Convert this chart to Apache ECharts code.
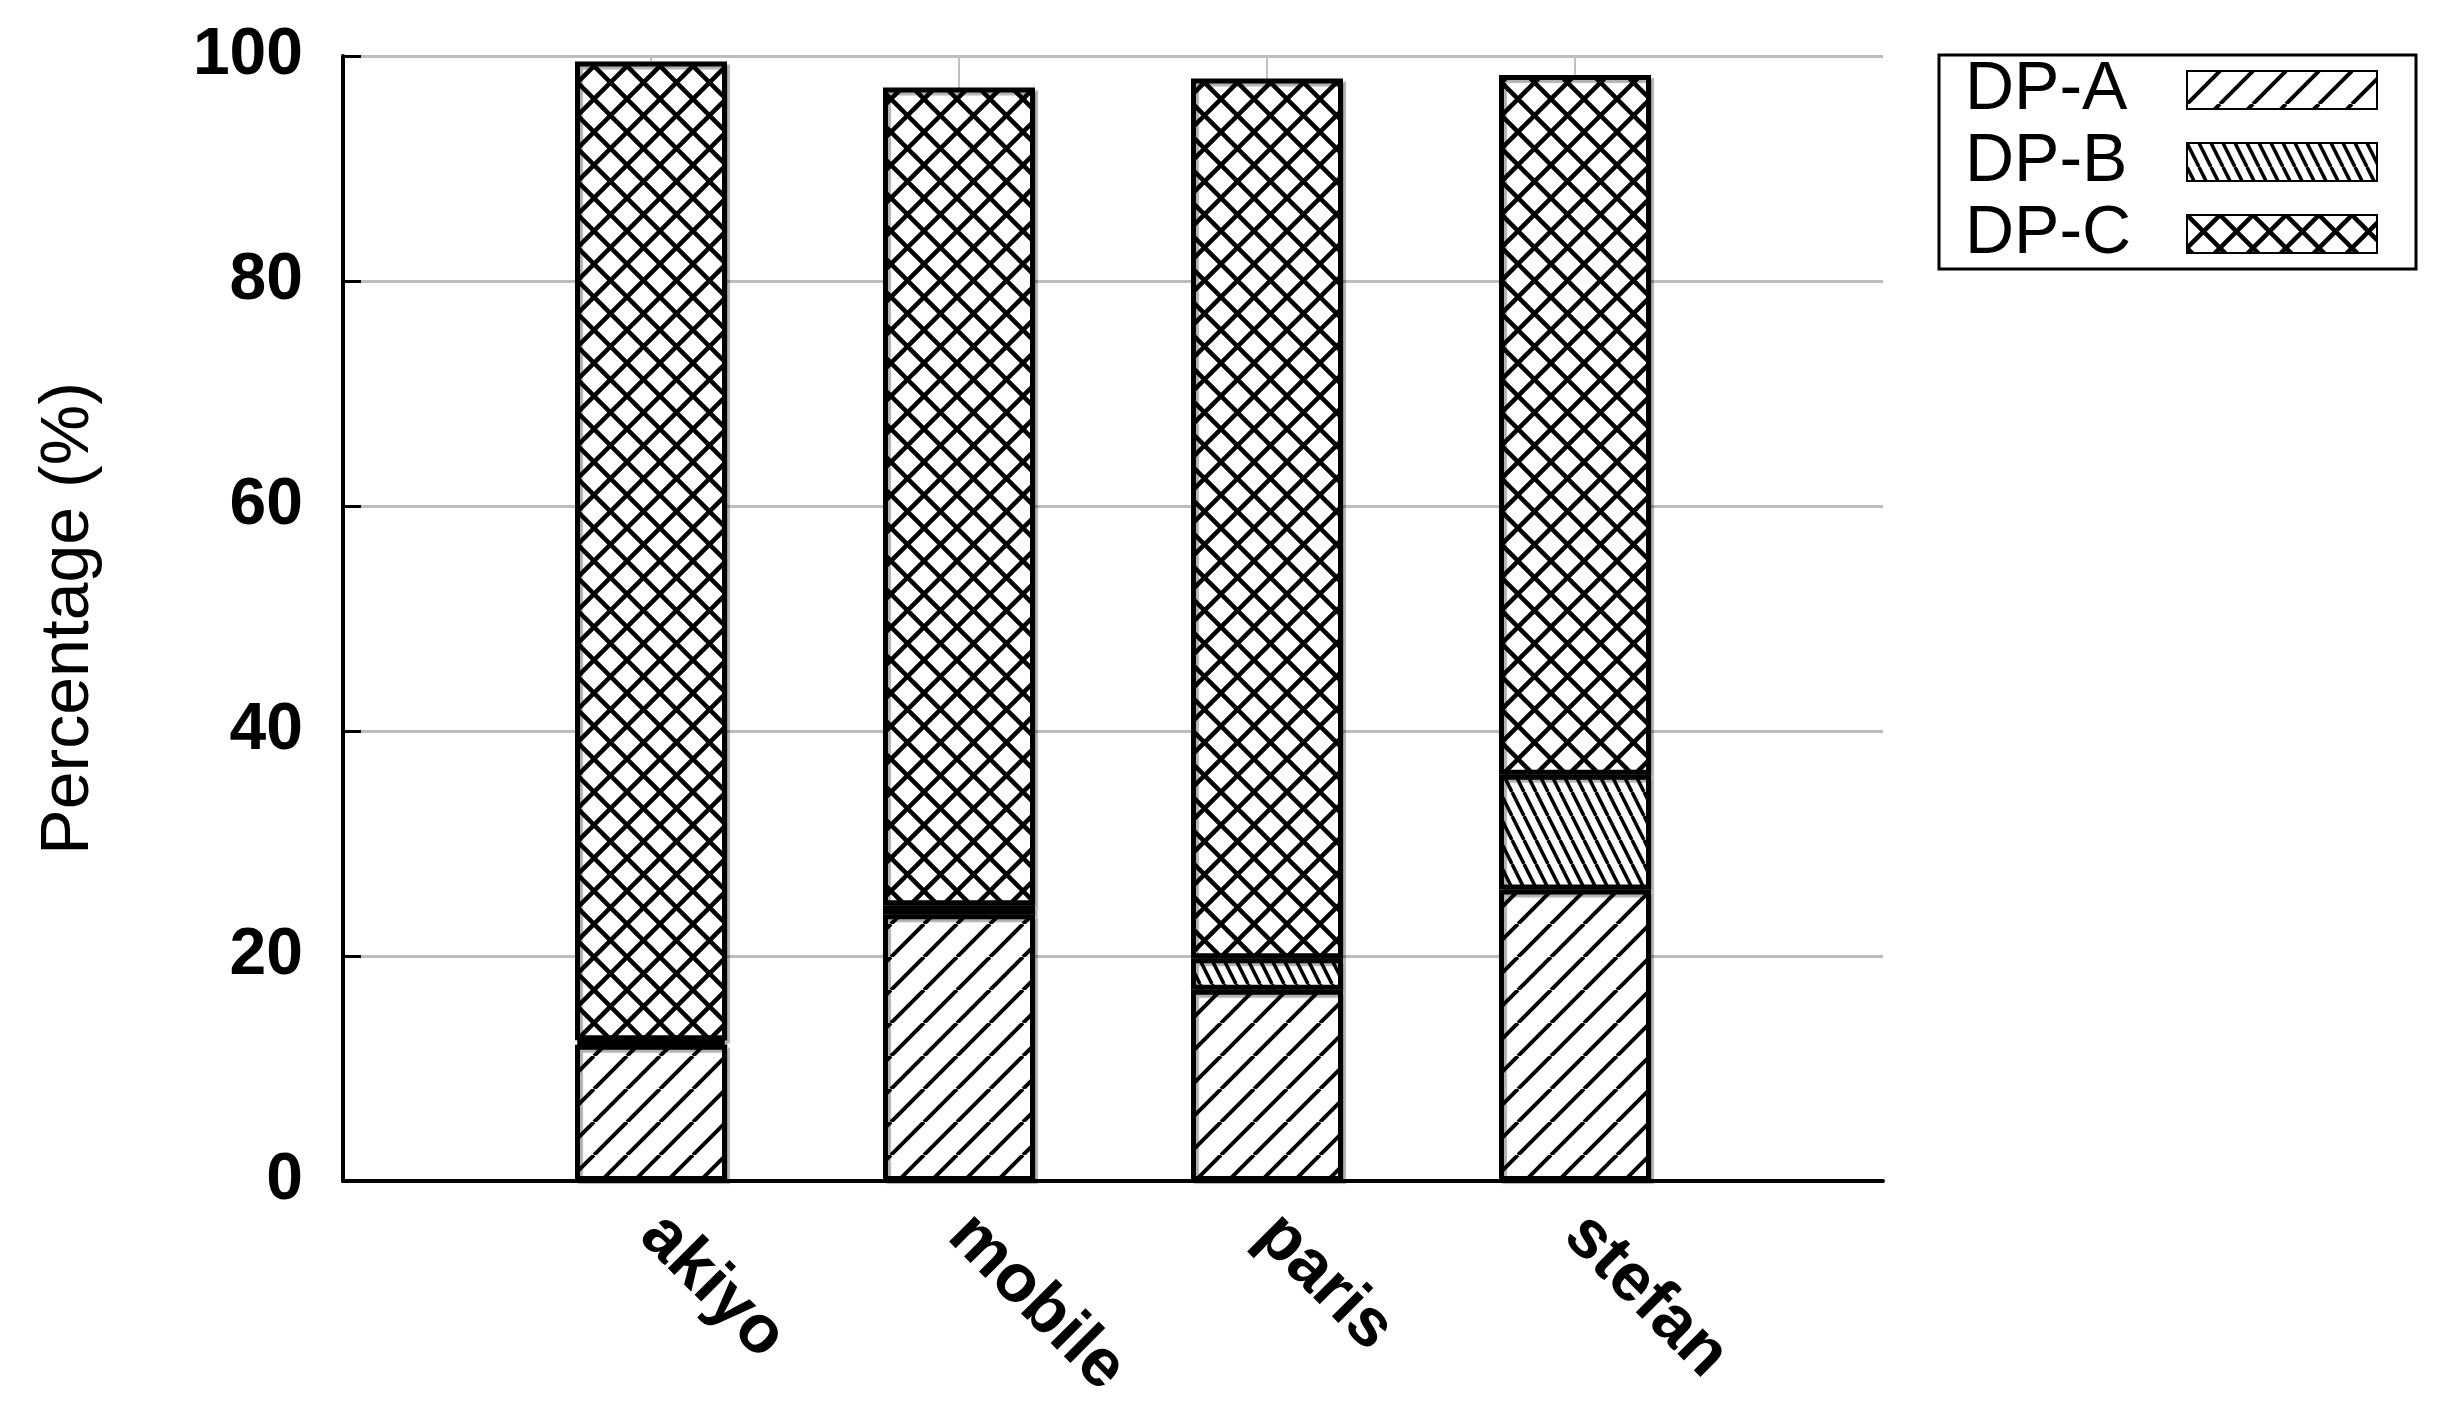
<!DOCTYPE html>
<html>
<head>
<meta charset="utf-8">
<script src="https://cdn.jsdelivr.net/npm/echarts@6/dist/echarts.min.js"></script>
<style>
    html, body { margin: 0; padding: 0; background: #fff; }
    #chart { width: 2440px; height: 1406px; }
</style>
</head>
<body>
<div id="chart"></div>
<script>
// 各序列的百分比
var categories = ['akiyo', 'mobile', 'paris', 'stefan'];
var seriesNames = ['DP-A', 'DP-B', 'DP-C'];
var dpA = [12.1, 23.7, 17.0, 25.9];
var dpB = [0.4, 0.8, 2.8, 10.2];
var dpC = [87.0, 72.7, 78.2, 62.2];
var yTicks = [0, 20, 40, 60, 80, 100];

var FONT = '"Liberation Sans", Arial, sans-serif';

// 填充图案
function makeTile(w, h, lw, draw) {
    var c = document.createElement('canvas');
    c.width = w;
    c.height = h;
    var ctx = c.getContext('2d');
    ctx.fillStyle = '#fff';
    ctx.fillRect(0, 0, w, h);
    ctx.strokeStyle = '#000';
    ctx.lineWidth = lw;
    ctx.beginPath();
    draw(ctx, w, h);
    ctx.stroke();
    return c;
}

// DP-A: 45度斜线 /
var tileA = makeTile(33, 33, 4, function (ctx, w, h) {
    for (var k = -1; k <= 1; k++) {
        ctx.moveTo(k * w, h);
        ctx.lineTo(k * w + w, 0);
    }
});
// DP-B: 细密反斜线 \
var tileB = makeTile(12, 24, 3.5, function (ctx, w, h) {
    for (var k = -1; k <= 1; k++) {
        ctx.moveTo(k * w, 0);
        ctx.lineTo(k * w + w, h);
    }
});
// DP-C: 网格
var tileC = makeTile(33, 33, 4.5, function (ctx, w, h) {
    for (var k = -1; k <= 1; k++) {
        ctx.moveTo(k * w, h);
        ctx.lineTo(k * w + w, 0);
        ctx.moveTo(k * w, 0);
        ctx.lineTo(k * w + w, h);
    }
});
var tiles = [tileA, tileB, tileC];
var values = [dpA, dpB, dpC];

// 两端留空类目
var axisData = [''].concat(categories).concat(['']);

var series = [];
for (var i = 0; i < seriesNames.length; i++) {
    series.push({
        name: seriesNames[i],
        type: 'bar',
        stack: 'total',
        barWidth: 152,
        data: ['-'].concat(values[i]).concat(['-']),
        itemStyle: {
            color: {image: tiles[i], repeat: 'repeat'},
            borderColor: '#000',
            borderWidth: 5,
            shadowColor: 'rgba(0,0,0,0.3)',
            shadowOffsetX: 3,
            shadowOffsetY: 3,
            shadowBlur: 1
        },
        emphasis: {disabled: true}
    });
}

var chart = echarts.init(document.getElementById('chart'));
var option = {
    backgroundColor: '#fff',
    animation: false,
    grid: {
        left: 343,
        right: 557,
        top: 56,
        bottom: 222,
        containLabel: false
    },
    legend: {
        orient: 'vertical',
        left: 1939,
        top: 55,
        align: 'right',
        icon: 'rect',
        itemWidth: 190,
        itemHeight: 38,
        itemGap: 4,
        padding: [1, 38, 1, 26],
        borderColor: '#000',
        borderWidth: 3,
        backgroundColor: '#fff',
        formatter: '{t|{name}}',
        textStyle: {
            fontFamily: FONT,
            fontSize: 68,
            color: '#000',
            rich: {
                t: {
                    fontFamily: FONT,
                    fontSize: 68,
                    color: '#000',
                    lineHeight: 70,
                    width: 217,
                    align: 'left'
                }
            }
        },
        data: seriesNames
    },
    xAxis: {
        type: 'category',
        boundaryGap: false,
        data: axisData,
        axisLine: {
            lineStyle: {color: '#000', width: 4}
        },
        axisTick: {show: false},
        axisLabel: {
            rotate: -45,
            margin: 44,
            interval: 0,
            color: '#000',
            fontFamily: FONT,
            fontSize: 68,
            fontWeight: 'bold'
        },
        splitLine: {
            show: true,
            interval: function (index) {
                return index > 0 && index < axisData.length - 1;
            },
            lineStyle: {color: '#c0c0c0', width: 2}
        }
    },
    yAxis: {
        type: 'value',
        min: yTicks[0],
        max: yTicks[yTicks.length - 1],
        interval: 20,
        name: 'Percentage (%)',
        nameLocation: 'middle',
        nameGap: 240,
        nameTextStyle: {
            fontFamily: FONT,
            fontSize: 68,
            color: '#000'
        },
        axisLine: {
            show: true,
            lineStyle: {color: '#000', width: 4}
        },
        axisTick: {
            show: true,
            inside: true,
            length: 18,
            lineStyle: {color: '#000', width: 3}
        },
        axisLabel: {
            margin: 40,
            color: '#000',
            fontFamily: FONT,
            fontSize: 66,
            fontWeight: 'bold'
        },
        splitLine: {
            show: true,
            lineStyle: {color: '#bdbdbd', width: 3}
        }
    },
    series: series
};
chart.setOption(option);
</script>
</body>
</html>
